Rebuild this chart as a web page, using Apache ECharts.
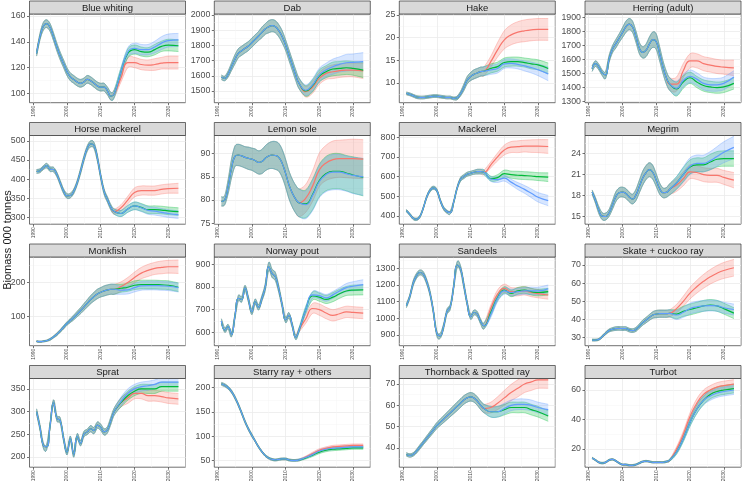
<!DOCTYPE html>
<html><head><meta charset="utf-8">
<script src="https://cdn.jsdelivr.net/npm/echarts@6/dist/echarts.min.js"></script>
<style>html,body{margin:0;padding:0;background:#fff}#c{width:745px;height:481px}</style>
</head><body><div id="c"></div>
<script>
// ---------------- DATA ----------------
const histYears = [1991,1992,1993,1994,1995,1996,1997,1998,1999,2000,2001,2002,2003,2004,2005,2006,2007,2008,2009,2010,2011,2012,2013,2014];
const projYears = [2016,2018,2020,2022,2024,2026,2028,2030,2033];
const xTicks = [1990,2000,2010,2020,2030];
const panelNames = ['Blue whiting','Dab','Hake','Herring (adult)','Horse mackerel','Lemon sole','Mackerel','Megrim','Monkfish','Norway pout','Sandeels','Skate + cuckoo ray','Sprat','Starry ray + others','Thornback & Spotted ray','Turbot'];
const yMins = [93,1423,5.65,1293,282,74.8,358,13.9,12,541,836,25.6,177,36,31,7.7];
const yMaxs = [161.5,2007,25.2,1922,514,93.9,809,26.6,276,932,1368,74.4,373,219,72.6,67.8];
const yTicks = [[100,120,140,160],[1500,1600,1700,1800,1900,2000],[10,15,20,25],[1300,1400,1500,1600,1700,1800,1900],[300,350,400,450,500],[75,80,85,90],[400,500,600,700,800],[15,18,21,24],[100,200],[600,700,800,900],[900,1000,1100,1200,1300],[30,40,50,60,70],[200,250,300,350],[50,100,150,200],[40,50,60,70],[20,40,60]];

const blueWhiting = {
  hist:[131,144,152,154,151,144,136,129,123,117,113,111,109,108,109,111,110,108,106,105,105,102,98,100],
  histW:[2,2.5,3,3,3,3,3,3,3,3,3,3,3,3,3,3,3,3,3,3,3,3,3,3],
  red:[112,124,124,122.5,122,122.5,123.5,124,124], redW:[3,4,4,4,4,4.5,4.5,5,5],
  green:[117,131,134,132.5,132,134,136.5,137.5,137], greenW:[3,3.5,3.5,3.5,3.5,4,4,4.5,4.5],
  blue:[117,132,135,134,134,136,139,141,141.5], blueW:[3,3.5,4,4,4,4.5,5,5,5]};
const dab = {
  hist:[1590,1583,1612,1660,1708,1748,1765,1781,1796,1818,1840,1862,1886,1908,1923,1930,1923,1897,1857,1803,1737,1671,1605,1550],
  histW:[15,15,20,25,30,30,30,30,30,30,30,30,35,35,40,40,40,40,40,35,35,35,35,35],
  red:[1495,1525,1583,1616,1627,1634,1638,1638,1632], redW:[35,40,40,40,45,45,45,45,50],
  green:[1500,1535,1599,1627,1645,1649,1653,1649,1638], greenW:[35,40,40,40,45,45,45,45,50],
  blue:[1505,1540,1605,1638,1660,1675,1686,1689,1693], blueW:[35,40,45,45,50,50,55,55,60]};
const hake = {
  hist:[7.7,7.5,7.2,6.9,6.8,6.8,6.9,7.0,7.1,7.1,7.0,6.9,6.8,6.8,6.6,6.7,7.6,9.0,10.6,11.4,11.9,12.2,12.5,12.6],
  histW:[0.3,0.3,0.3,0.3,0.3,0.3,0.3,0.3,0.3,0.3,0.3,0.3,0.3,0.3,0.3,0.4,0.5,0.7,0.8,0.9,1,1,1,1],
  red:[14.7,17.3,19.5,20.6,21.2,21.5,21.7,21.8,21.8], redW:[1.2,1.6,2,2.2,2.3,2.4,2.4,2.4,2.4],
  green:[13.2,13.6,14.5,14.7,14.7,14.5,14.2,14.0,13.2], greenW:[1,1,1,1,1,1,1.1,1.1,1.2],
  blue:[12.9,13.2,14.2,14.3,14.1,13.75,13.4,12.9,12.0], blueW:[1,1,1,1,1,1.1,1.2,1.3,1.5]};
const herring = {
  hist:[1535,1570,1545,1505,1490,1600,1670,1710,1750,1790,1830,1850,1830,1760,1680,1650,1665,1710,1740,1725,1640,1545,1470,1425],
  histW:[20,20,20,20,25,25,25,30,30,35,40,40,40,40,40,40,45,50,55,55,50,45,45,45],
  red:[1425,1520,1590,1590,1570,1560,1550,1545,1540], redW:[50,50,50,50,50,50,50,50,55],
  green:[1390,1440,1470,1440,1415,1405,1400,1405,1430], greenW:[50,45,40,40,40,40,40,40,40],
  blue:[1395,1450,1480,1460,1430,1420,1420,1430,1475], blueW:[50,45,45,45,45,45,45,45,45]};
const horseMackerel = {
  hist:[420,422,430,435,426,425,412,390,368,356,357,368,390,420,453,480,492,488,455,407,367,346,326,315],
  histW:[5,5,5,6,6,6,6,6,6,6,6,6,6,7,7,7,8,8,8,7,7,7,7,7],
  red:[325,345,365,370,370,370,373,375,376], redW:[8,10,12,12,12,12,12,12,13],
  green:[310,322,330,326,320,320,319,317,315], greenW:[8,9,10,10,10,10,10,10,10],
  blue:[310,322,330,325,318,316,313,310,307], blueW:[8,9,10,10,10,10,10,10,10]};
const lemonSole = {
  hist:[79.7,80,82.9,86.8,89.4,89.7,89.5,89.2,89,88.8,88.5,88.1,88.3,89,89.5,89.7,89.6,89.2,87.9,85.8,83.3,81.5,80.2,79.4],
  histW:[1,1,1.5,2,2.2,2.3,2.3,2.3,2.4,2.4,2.5,2.5,2.6,2.7,2.8,2.9,3,3,3,3,3,3,3,3],
  red:[80.4,83,86.5,88,88.7,88.9,88.9,88.9,88.8], redW:[3,3.3,3.6,3.8,4,4,4.1,4.2,4.2],
  green:[79.2,81.2,84.2,85.7,86.2,86.2,85.8,85.4,84.9], greenW:[3,3.3,3.5,3.7,3.8,3.8,3.8,3.9,4],
  blue:[79,81,84,85.5,86,86,85.7,85.3,85], blueW:[3,3.3,3.5,3.7,3.8,3.8,3.8,3.9,4]};
const mackerel = {
  hist:[427,408,388,383,397,440,495,530,543,530,480,440,422,418,470,540,585,600,612,617,622,625,625,622],
  histW:[6,6,6,6,6,6,7,8,8,8,8,8,8,8,8,8,10,10,10,10,10,12,12,12],
  red:[660,700,735,750,752,755,755,755,753], redW:[15,20,25,28,30,30,32,33,35],
  green:[590,595,615,610,607,605,603,600,597], greenW:[12,15,18,18,20,20,20,20,22],
  blue:[588,585,592,572,552,535,515,495,478], blueW:[12,15,15,15,18,20,22,24,26]};
const megrim = {
  hist:[18.5,17.3,15.9,15.05,15.0,15.5,16.6,17.8,18.4,18.5,18.3,17.8,17.5,18.1,19.3,20.5,21.3,21.7,21.3,20.2,19.0,18.4,18.45,18.9],
  histW:[0.3,0.4,0.5,0.5,0.5,0.5,0.6,0.7,0.7,0.7,0.7,0.7,0.7,0.8,0.9,1,1,1,1,0.9,0.8,0.7,0.7,0.8],
  red:[19.5,20.4,21.4,21.3,21.0,20.9,20.9,20.6,20.2], redW:[0.9,1,1,1,1,1,1,1,1.1],
  green:[19.8,21.0,22.1,22.4,22.4,22.8,23.2,23.3,23.3], greenW:[0.9,1,1,1,1,1.1,1.1,1.1,1.1],
  blue:[19.8,21.0,22.2,22.6,22.6,23.0,23.6,24.2,24.9], blueW:[0.9,1.1,1.2,1.2,1.2,1.3,1.4,1.5,1.6]};
const monkfish = {
  hist:[25,24,25,27,31,38,46,56,67,78,87,96,106,116,127,138,149,158,166,171,175,178,180,180],
  histW:[2,2,2,2,3,3,4,4,5,5,6,7,8,9,10,11,12,13,14,14,15,15,15,15],
  red:[188,200,215,228,236,242,245,247,247], redW:[14,15,16,17,18,18,19,19,20],
  green:[183,186,192,194,194,194,193,192,186], greenW:[12,12,13,13,13,13,13,13,13],
  blue:[177,178,185,190,191,191,190,189,185], blueW:[12,12,13,13,13,13,13,13,13]};
const norwayPout = {
  hist:[650,610,625,590,670,750,745,795,745,690,735,710,750,800,890,860,845,790,720,655,675,630,578,610],
  histW:[10,10,10,10,10,12,12,12,12,12,12,12,12,15,18,18,18,15,12,12,12,10,10,10],
  red:[660,705,700,685,675,682,690,688,685], redW:[20,22,25,25,25,25,25,25,25],
  green:[700,760,755,745,755,770,782,786,787], greenW:[15,18,18,18,20,20,20,22,22],
  blue:[700,765,762,752,765,782,797,803,810], blueW:[15,15,15,15,15,15,18,20,22]};
const sandeels = {
  hist:[1076,1130,1210,1255,1275,1265,1220,1150,1040,910,895,950,1040,1070,1190,1320,1300,1200,1090,1010,1035,1025,980,955],
  histW:[12,12,15,15,15,15,15,15,15,15,15,15,15,15,15,18,18,18,15,15,15,15,15,18],
  red:[1060,1145,1180,1160,1160,1165,1155,1148,1140], redW:[20,25,25,25,25,25,25,25,25],
  green:[1035,1125,1170,1150,1165,1170,1160,1155,1160], greenW:[20,20,20,20,20,20,20,20,20],
  blue:[1025,1120,1165,1155,1160,1165,1165,1165,1178], blueW:[20,20,20,20,20,20,22,22,22]};
const skate = {
  hist:[28.7,28.7,29.1,30.6,32.4,33.9,34.6,35,35.1,35,35,34.2,33.9,34.6,36.4,38.3,39.7,41.2,42.5,43,43.2,43.2,43.2,43.4],
  histW:[0.5,0.5,0.5,0.6,0.7,0.8,0.9,1,1,1,1,1,1,1.1,1.2,1.4,1.5,1.6,1.8,2,2,2,2,2],
  red:[46,50,54.5,58,61,63.5,65.5,67,68.5], redW:[2.3,2.8,3.2,3.5,3.8,4,4.2,4.4,4.6],
  green:[43,44.5,45.5,46.5,47.5,48,47.5,46,43.5], greenW:[2.5,2.8,3,3,3,3,3,3,3],
  blue:[42.5,44,46,47,47.5,47.7,47.5,46.5,45.5], blueW:[2.5,2.8,3,3,3,3,3,3,3]};
const sprat = {
  hist:[300,265,225,222,270,320,285,280,240,210,240,205,245,230,250,255,262,258,270,265,255,260,280,300],
  histW:[6,6,6,6,6,6,6,6,6,6,6,6,6,6,6,6,7,7,7,7,7,7,8,8],
  red:[320,330,340,340,335,335,333,330,328], redW:[10,12,12,12,12,12,12,12,12],
  green:[320,335,345,350,350,350,355,355,355], greenW:[10,10,10,10,10,10,10,10,10],
  blue:[322,340,350,355,357,360,365,365,365], blueW:[10,10,10,10,10,10,10,10,10]};
const starryRay = {
  hist:[208,205,200,192,180,165,148,130,115,102,90,78,68,60,55,52,51,52,53,53,51,50,50,51],
  histW:[3,3,3,3,3,3,3,3,3,3,2,2,2,2,2,2,2,2,2,2,2,2,2,2],
  red:[57,64,71,75,78,79,80,81,81], redW:[2,3,3,3,3,3,3,3,3],
  green:[55,61,67,71,73,74,75,76,76], greenW:[2,3,3,3,3,3,3,3,3],
  blue:[56,62,69,73,75,76,77,78,78], blueW:[2,3,3,3,3,3,3,3,3]};
const thornback = {
  hist:[37,36.5,37,38.5,40.5,42.5,44.5,46.5,48.5,50.5,52,53.5,55,56.5,58,59.5,61,62.5,63.5,64,63.5,62,60,58.5],
  histW:[0.8,0.8,0.8,0.9,1,1,1.1,1.2,1.3,1.4,1.5,1.6,1.7,1.8,1.9,2,2,2,2,2,2,2,2,2],
  red:[59,61,63.5,66,68,70,71,72,72], redW:[2.5,3,3.5,3.8,4,4,4,4,4],
  green:[57,57,58,59,59,59,58,57,55], greenW:[2.5,2.5,2.5,2.5,2.5,2.5,2.5,2.5,2.5],
  blue:[57,57,58.5,60,60.5,60.5,60,59,58], blueW:[2.5,2.5,2.5,2.5,2.5,2.5,2.5,2.5,2.5]};
const turbot = {
  hist:[14,12.5,11,10.5,11,12.5,13,12,10.5,9.5,9.5,9,9,9.5,10.5,11.5,11.8,11.5,11,11,11,11,11.5,12.5],
  histW:[0.5,0.5,0.5,0.5,0.5,0.5,0.5,0.5,0.5,0.5,0.5,0.5,0.5,0.5,0.5,0.5,0.5,0.5,0.5,0.5,0.5,0.5,0.6,0.7],
  red:[20,30,42,51,57,60,62,63,64], redW:[1.5,2,2.5,3,3,3,3,3,3],
  green:[18,27,38,47,53,57,59,60,61], greenW:[1.5,2,2.5,3,3,3,3,3,3],
  blue:[18,27,38,47,53,56,58,59,60], blueW:[1.5,2,2.5,3,3,3,3,3,3]};

const panelData = [blueWhiting,dab,hake,herring,horseMackerel,lemonSole,mackerel,megrim,monkfish,norwayPout,sandeels,skate,sprat,starryRay,thornback,turbot];

// ---------------- STYLE / LAYOUT ----------------
const COLORS = {red:'#F8766D', green:'#00BA38', blue:'#619CFF'};
const SCEN = ['red','green','blue'];
const ALPHA = 0.25;
const X_MIN = 1988.9, X_MAX = 2035.1;
const COL_L = [29.5, 214.3, 399.3, 585];
const ROW_T = [1, 122.5, 244, 365.5];
const PANEL_W = 156, STRIP_H = 13, PLOT_H = 88.7;
const FONT = 'Liberation Sans, Arial, Helvetica, sans-serif';

function rgba(hex, a){const n=parseInt(hex.slice(1),16);return `rgba(${n>>16&255},${n>>8&255},${n&255},${a})`;}
function densify(p){
  const out=[p[0]];
  for(let i=0;i<p.length-1;i++){
    const p0=p[Math.max(i-1,0)],p1=p[i],p2=p[i+1],p3=p[Math.min(i+2,p.length-1)];
    for(let s=1;s<=6;s++){
      const t=s/6,t2=t*t,t3=t2*t;
      const f=(a,b,c,d)=>0.5*((2*b)+(-a+c)*t+(2*a-5*b+4*c-d)*t2+(-a+3*b-3*c+d)*t3);
      out.push([f(p0[0],p1[0],p2[0],p3[0]),f(p0[1],p1[1],p2[1],p3[1])]);
    }
  }
  return out;
}
function minorOf(ticks, lo, hi){
  const step = ticks.length>1 ? ticks[1]-ticks[0] : 10;
  const res=[];
  for(let v=ticks[0]-step/2; v<=hi; v+=step){ if(v>=lo) res.push(+v.toFixed(6)); }
  return res;
}

const grids=[], xAxes=[], yAxes=[], series=[], graphics=[];
const years = histYears.concat(projYears);

panelNames.forEach((name,i)=>{
  const r=Math.floor(i/4), c=i%4;
  const left=COL_L[c], top=ROW_T[r]+STRIP_H;
  grids.push({left:left, top:top, width:PANEL_W, height:PLOT_H, show:true, backgroundColor:'#fff', borderColor:'#333', borderWidth:0.7, containLabel:false, outerBoundsMode:'none'});
  graphics.push({type:'rect', shape:{x:left, y:ROW_T[r], width:PANEL_W, height:STRIP_H}, style:{fill:'#D9D9D9', stroke:'#333', lineWidth:0.7}, z:10});
  graphics.push({type:'text', x:left+PANEL_W/2, y:ROW_T[r]+STRIP_H/2+0.5, style:{text:name, fill:'#1A1A1A', font:`9.5px ${FONT}`, textAlign:'center', textVerticalAlign:'middle', verticalAlign:'middle'}, z:11});

  xAxes.push({gridIndex:i, type:'value', min:X_MIN, max:X_MAX,
    axisLine:{show:false},
    axisTick:{show:true, length:2.5, lineStyle:{color:'#333', width:0.7}, customValues:xTicks},
    axisLabel:{customValues:xTicks, rotate:90, fontSize:5, color:'#4D4D4D', margin:3, fontFamily:FONT, formatter:v=>String(v)},
    splitLine:{show:true, lineStyle:{color:'#EBEBEB', width:0.8}}});
  xAxes.push({gridIndex:i, type:'value', min:X_MIN, max:X_MAX, position:'bottom',
    axisLine:{show:false}, axisTick:{show:false, customValues:minorOf(xTicks,X_MIN,X_MAX)},
    axisLabel:{show:false, customValues:minorOf(xTicks,X_MIN,X_MAX)},
    splitLine:{show:true, lineStyle:{color:'#F4F4F4', width:0.5}}});
  yAxes.push({gridIndex:i, type:'value', min:yMins[i], max:yMaxs[i],
    axisLine:{show:false},
    axisTick:{show:true, length:2.5, lineStyle:{color:'#333', width:0.7}, customValues:yTicks[i]},
    axisLabel:{customValues:yTicks[i], fontSize:8.8, color:'#4D4D4D', margin:4, fontFamily:FONT, formatter:v=>String(v)},
    splitLine:{show:true, lineStyle:{color:'#EBEBEB', width:0.8}}});
  const ym = minorOf(yTicks[i], yMins[i], yMaxs[i]);
  yAxes.push({gridIndex:i, type:'value', min:yMins[i], max:yMaxs[i], position:'left',
    axisLine:{show:false}, axisTick:{show:false, customValues:ym}, axisLabel:{show:false, customValues:ym},
    splitLine:{show:true, lineStyle:{color:'#F4F4F4', width:0.5}}});

  const d = panelData[i];
  SCEN.forEach(s=>{
    const mean = d.hist.concat(d[s]);
    const w = d.histW.concat(d[s+'W']);
    const pts = years.map((y,k)=>[y, mean[k]-w[k], mean[k]+w[k]]);
    const col = COLORS[s];
    series.push({type:'custom', xAxisIndex:2*i, yAxisIndex:2*i, clip:true, silent:true, data:pts, encode:{x:0,y:[1,2]},
      renderItem:function(params, api){
        if(params.dataIndexInside!==0) return null;
        const up=densify(pts.map(p=>api.coord([p[0],p[2]])));
        const lo=densify(pts.map(p=>api.coord([p[0],p[1]])));
        return {type:'group', children:[
          {type:'polygon', shape:{points:up.concat(lo.slice().reverse())}, style:{fill:rgba(col,ALPHA), stroke:null}},
          {type:'polyline', shape:{points:up}, style:{stroke:rgba(col,0.7), lineWidth:0.5, fill:null}},
          {type:'polyline', shape:{points:lo}, style:{stroke:rgba(col,0.7), lineWidth:0.5, fill:null}}
        ]};
      }});
  });
  SCEN.forEach(s=>{
    const mean = d.hist.concat(d[s]);
    series.push({type:'line', xAxisIndex:2*i, yAxisIndex:2*i, data:years.map((y,k)=>[y,mean[k]]),
      smooth:0.5, showSymbol:false, symbol:'none', silent:true, clip:true,
      lineStyle:{color:COLORS[s], width:1.2}});
  });
});

graphics.push({type:'text', x:7.5, y:240, rotation:Math.PI/2, style:{text:'Biomass 000 tonnes', fill:'#1A1A1A', font:`11px ${FONT}`, textAlign:'center', textVerticalAlign:'middle', verticalAlign:'middle'}});

const chart = echarts.init(document.getElementById('c'), null, {renderer:'canvas'});
chart.setOption({
  animation:false,
  textStyle:{fontFamily:FONT},
  grid:grids, xAxis:xAxes, yAxis:yAxes, series:series, graphic:graphics
});
</script></body></html>
